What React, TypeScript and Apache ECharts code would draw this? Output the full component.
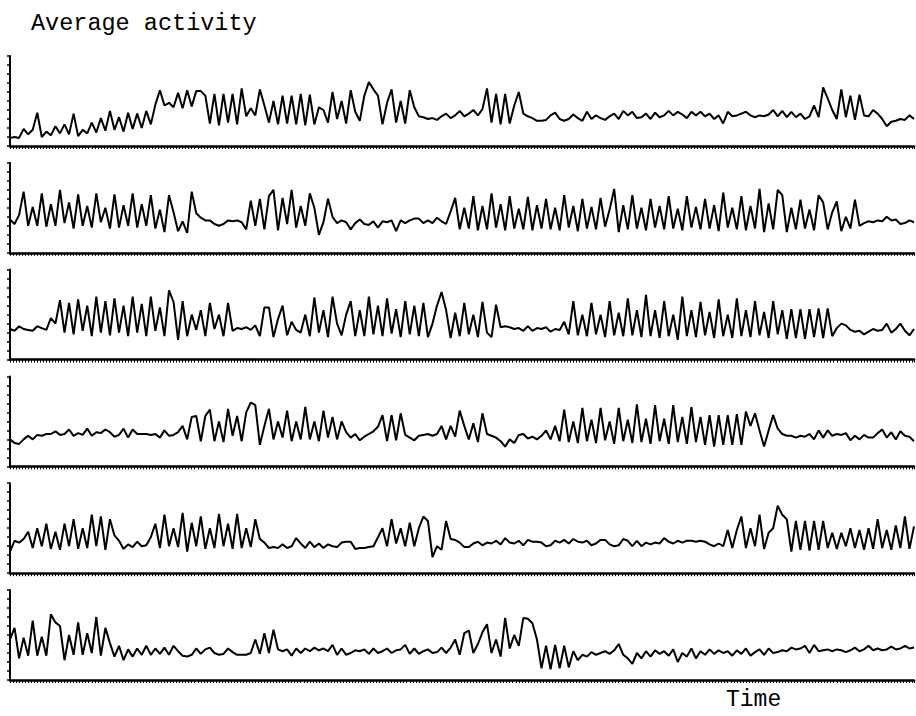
import React, { useEffect, useRef } from "react";
import * as echarts from "echarts";

const titleText = "Average activity";
const xAxisName = "Time";

const trace1 = [
  0.9, 1.0, 0.9, 1.9, 1.3, 1.8, 3.7,
  1.0, 1.6, 1.2, 2.2, 1.4, 2.4, 1.3, 3.6, 1.1, 1.8, 1.4, 2.6, 1.5, 3.1, 1.7, 3.9, 1.8, 3.2, 1.6, 3.7, 1.9, 3.6, 2.0, 3.9, 2.4,
  4.6, 6.2, 4.5, 4.8, 4.3, 5.9, 4.2, 6.2, 4.4, 6.1, 6.1, 5.6,
  2.5, 5.8, 2.3, 5.8, 2.6, 5.8, 2.4, 6.4, 3.3, 4.2, 3.4, 6.3, 4.5, 2.6, 5.0, 2.4, 5.6, 2.5, 5.6, 2.4, 5.8, 2.3, 5.7,
  2.4, 4.3, 4.0, 2.6, 6.0, 3.0, 5.0, 2.5, 6.2, 3.8, 2.8, 5.6, 7.1, 6.3, 5.6, 2.4, 4.8, 6.3, 2.6, 5.0, 2.5, 6.2, 4.3,
  3.3, 3.2, 3.0, 3.1, 2.9, 3.3, 3.6, 3.1, 3.4, 3.9, 3.3, 3.6, 4.0, 3.4, 4.1,
  6.4, 2.6, 5.8, 2.4, 5.8, 2.5, 4.5, 6.0, 3.6,
  3.3, 3.1, 2.8, 2.8, 2.9, 3.4, 3.7, 3.0, 2.8, 3.0, 3.5, 3.1, 2.8, 3.8, 3.0, 3.4, 3.1, 2.9, 3.3, 3.6, 3.0, 3.9, 3.4, 3.8, 3.1, 3.2, 3.6, 3.0, 3.7, 3.2, 3.4,
  3.9, 3.4, 3.8, 3.5, 3.1, 3.8, 3.4, 3.8, 3.3, 3.6, 3.0, 3.4, 2.5, 3.8, 3.3, 3.4, 3.6, 3.8, 3.4, 3.2, 3.4, 3.3, 3.5, 4.0, 3.3, 3.9, 3.2, 3.8, 3.2, 3.6, 3.0,
  3.3, 4.5, 3.2, 6.5, 5.3, 4.0, 3.0, 6.3, 3.2, 5.6, 2.9, 5.7, 3.4,
  3.3, 4.0, 3.6, 3.0, 2.2, 2.7, 2.8, 3.0, 2.9, 3.4, 3.0,
];

const trace2 = [
  3.7, 3.2, 4.2, 6.8, 3.0, 5.1, 3.0, 6.6, 2.9, 5.4, 3.0, 7.0, 3.3, 5.6, 2.7, 6.5, 3.0, 5.2, 2.8, 6.6, 3.4, 5.0, 2.7, 6.5, 2.8, 5.3, 3.0, 6.6, 2.8, 5.4, 3.0, 6.4, 2.7, 4.8, 2.3, 6.4, 4.5, 2.4, 3.5, 2.2, 6.8,
  4.4, 3.9, 3.6, 3.6, 3.2, 3.0, 3.2, 3.6, 3.5, 3.6, 3.4,
  2.6, 5.8, 3.0, 6.0, 2.6, 6.3, 7.0, 2.5, 6.1, 3.2, 7.0, 2.8, 5.2, 3.0, 6.6, 5.0, 2.0, 3.4, 6.0, 4.0,
  3.3, 3.6, 3.4, 2.6, 3.3, 3.7, 3.2, 3.1, 3.5, 2.8, 3.5, 3.4, 3.6, 2.4, 3.6, 3.3, 3.6, 3.8, 3.8, 3.3, 3.6, 3.3, 3.9, 3.5,
  3.2, 4.6, 6.1, 2.6, 5.0, 2.7, 6.3, 2.5, 5.2, 2.6, 6.6, 2.8, 5.4, 2.5, 6.3, 2.7, 4.9, 2.6, 6.2, 2.5, 5.3, 2.7, 6.0, 2.6, 5.0, 2.5, 6.4, 2.8, 5.2, 2.4, 6.0, 2.7, 5.1, 2.6, 6.1, 2.9, 4.8,
  7.1, 2.3, 5.3, 2.6, 6.4, 2.7, 5.0, 2.5, 6.0, 2.8, 5.2, 2.6, 6.3, 2.7, 4.9, 2.5, 6.3, 2.8, 5.1, 2.6, 6.0, 2.7, 5.3, 2.4, 6.7, 2.8, 5.0, 2.6, 6.3, 2.5, 5.2, 2.7, 7.1, 2.3, 5.5, 2.6,
  7.0, 6.4, 2.3, 5.0, 2.6, 5.9, 2.7, 4.8, 2.5, 6.4, 5.6, 2.6, 4.5, 5.7, 2.4, 4.0, 2.7, 5.9, 3.0, 3.3,
  3.5, 3.4, 3.6, 3.5, 4.0, 3.6, 3.7, 3.2, 3.3, 3.6, 3.4,
];

const trace3 = [
  3.4, 3.2, 3.7, 3.4, 3.3, 3.2, 3.7, 3.5,
  3.3, 4.6, 4.0, 6.6, 3.0, 6.3, 2.8, 6.7, 3.2, 6.0, 2.6, 7.0, 3.0, 6.5, 2.7, 6.8, 3.0, 6.0, 2.6, 7.0, 3.0, 6.2, 2.6, 7.0, 3.2, 5.8, 2.6, 7.7, 6.4, 2.2, 6.5, 2.6, 5.0, 3.3, 5.5, 2.6, 6.3, 3.4, 5.0, 2.6, 6.3, 3.2,
  3.5, 3.4, 3.6, 3.3, 3.8,
  2.6, 5.8, 5.8, 2.5, 4.5, 6.0, 2.7, 4.2, 3.3, 3.0, 5.0, 2.6, 6.9, 3.0, 5.5, 2.5, 7.0, 4.0, 2.7, 5.0, 6.5, 2.6, 5.5, 2.6, 7.0, 2.8, 6.0, 2.6, 6.8, 2.9, 5.6, 2.5, 6.5, 2.8, 6.0, 2.6, 6.3, 2.5, 4.0, 6.0, 7.5, 5.5, 2.4, 5.2, 2.6, 6.3, 2.8, 5.0, 2.5, 6.4, 3.0, 2.5, 6.1, 3.6,
  3.7, 3.6, 3.4, 3.5, 3.2, 3.7, 3.2, 3.5, 3.4, 3.6, 3.1, 3.4, 3.3,
  4.2, 2.8, 6.5, 2.7, 5.0, 2.6, 6.3, 2.8, 5.0, 2.5, 6.5, 2.7, 5.2, 2.6, 6.8, 2.7, 5.5, 2.5, 7.2, 2.6, 5.5, 2.4, 6.5, 2.6, 5.0, 2.2, 7.0, 2.6, 5.5, 2.5,
  6.4, 2.7, 5.3, 2.4, 6.7, 2.6, 5.0, 2.4, 6.8, 2.6, 5.5, 2.5, 6.5, 2.7, 5.3, 2.4, 6.5, 2.8, 5.5, 2.3, 5.6, 2.4, 5.6, 2.3, 5.6, 2.5, 5.7, 2.4, 5.7, 2.6,
  3.5, 4.0, 3.8, 3.3, 3.1, 3.2, 2.8, 3.1, 3.4, 3.2, 3.3, 4.0, 3.0, 3.4, 4.0, 3.2, 2.7, 3.4,
];

const trace4 = [
  3.0, 2.6, 2.5, 3.0, 3.4, 3.0, 3.5, 3.4, 3.6, 3.6, 3.9, 3.5, 3.6, 4.1, 3.4, 3.7, 3.5, 4.2, 3.4, 3.8, 3.7, 4.1, 3.8, 3.3, 3.5, 4.2, 3.2, 4.1, 3.6, 3.6, 3.6, 3.5, 3.6, 3.2,
  4.0, 3.4, 3.5, 3.8, 4.5, 3.0, 5.5, 5.6, 2.8, 5.6, 6.3, 2.8, 5.0, 2.7, 6.4, 3.4, 5.6, 2.8, 6.0, 7.1, 6.8, 2.4, 4.5, 6.4, 3.0, 5.0, 3.2, 6.2, 2.8, 5.0, 3.0, 6.6, 3.0, 5.0, 2.8, 6.2, 3.2, 5.5, 3.0, 5.0, 3.8,
  3.2, 3.6, 2.9, 3.3, 3.6, 3.9, 4.4, 5.7, 2.8, 5.7, 2.9, 5.9, 3.5, 3.2,
  2.9, 3.4, 3.5, 3.6, 3.4, 3.6,
  4.5, 3.0, 4.5, 3.3, 6.2, 4.5, 3.0, 4.8, 2.7, 5.9, 3.6,
  3.4, 3.2, 2.8, 2.2, 3.0, 2.6, 3.5, 3.6, 3.1, 3.3, 3.0, 3.4,
  4.0, 3.0, 4.5, 2.8, 6.3, 2.7, 5.0, 2.6, 6.5, 2.8, 5.2, 2.6, 6.5, 2.9, 5.0, 2.5, 6.5, 2.8, 5.2, 2.6, 6.9, 2.7, 5.3, 2.5, 6.8, 2.8, 5.3, 2.5, 6.8, 2.7, 5.5, 2.5, 6.6, 2.7, 5.5, 2.4, 5.7, 2.2, 5.7, 2.4, 5.7, 2.4, 5.8, 2.4, 6.1,
  4.5, 5.9, 4.0, 2.2, 4.0, 5.7, 4.2,
  3.6, 3.4, 3.4, 3.2, 3.4, 3.3, 3.6, 3.0, 4.0, 3.2, 4.0, 3.4, 3.6, 3.5, 3.7, 2.9, 3.4, 3.0, 3.5, 3.2, 3.2, 3.7, 4.1, 3.2, 3.8, 3.0, 3.9, 3.4, 3.3, 2.8,
];

const trace5 = [
  2.4, 3.6, 3.4, 3.8, 4.6, 2.8, 5.0, 3.0, 5.5, 2.7, 4.6, 2.6, 5.5, 3.0, 6.0, 2.7, 5.0, 2.8, 6.5, 3.0, 6.3, 2.6, 6.0, 4.2,
  3.6, 2.7, 3.2, 2.9, 3.5, 3.0, 3.1,
  4.0, 5.5, 2.8, 6.5, 3.0, 5.0, 2.9, 6.7, 2.4, 5.6, 3.0, 6.3, 2.7, 5.0, 2.8, 6.6, 3.0, 5.5, 2.7, 6.6, 2.8, 5.0, 2.9, 6.0, 3.8,
  3.4, 2.8, 2.9, 2.8, 3.2, 2.8, 3.0, 3.9, 3.3, 2.8, 3.5, 2.9, 3.3, 2.8, 3.2, 3.0, 2.9, 3.4, 3.5, 3.5, 2.7, 2.8, 2.8, 2.9, 3.0,
  4.0, 5.0, 3.0, 6.0, 3.3, 5.0, 3.0, 5.6, 3.0, 5.0, 6.3, 5.8, 1.8, 3.0, 2.6, 5.8, 3.8,
  3.7, 3.4, 2.9, 2.9, 3.3, 3.5, 3.1, 3.4, 3.3, 3.6, 3.2, 3.9, 3.4, 3.3, 3.6, 3.1, 3.7, 3.5, 3.5, 3.4, 3.0, 3.1, 3.6, 3.4, 3.7, 3.3, 3.8, 3.5, 3.4, 3.6,
  3.1, 3.3, 3.7, 3.7, 3.2, 3.0, 3.1, 3.8, 3.6, 3.0, 3.6, 3.0, 3.4, 3.2, 3.4, 3.3, 3.9, 3.5, 3.3, 3.6, 3.4, 3.6, 3.6, 3.5, 3.6, 3.5, 3.2, 3.0, 3.3,
  3.0, 4.8, 2.8, 4.8, 6.3, 2.8, 5.0, 3.0, 6.5, 2.7, 4.5, 5.0, 7.5, 6.5, 6.0, 2.4, 5.8, 2.6, 5.8, 2.5, 5.8, 2.6, 5.8, 2.8, 4.5, 2.7, 4.5, 3.0, 5.0, 2.8, 4.8, 2.6, 5.0, 2.7, 6.0, 2.8, 4.8, 2.6, 5.3, 2.8, 6.3, 2.7, 5.2,
];

const trace6 = [
  4.5, 5.8, 2.4, 4.7, 2.7, 6.6, 2.7, 4.8, 2.7, 7.3, 6.4, 6.0, 2.2, 5.0, 2.8, 6.4, 2.8, 5.2, 3.0, 7.0, 2.7, 5.8,
  4.1, 2.6, 3.8, 2.2, 3.4, 2.6, 3.5, 2.8, 3.8, 2.8, 3.5, 2.9, 3.6, 2.8, 3.8, 3.2, 2.7, 2.6, 2.8, 3.5, 2.9, 3.4, 3.6, 3.0, 2.8, 2.9, 3.5, 3.1, 2.8, 2.8, 2.8, 3.0,
  4.5, 2.9, 5.2, 3.0, 5.6, 3.4,
  3.2, 3.4, 2.7, 3.5, 3.0, 3.5, 3.2, 3.6, 3.3, 3.5, 3.2, 3.9, 2.8, 3.5, 2.8, 3.0, 3.3, 3.2, 3.4, 2.9, 3.5, 3.0, 3.2, 3.5, 3.0, 3.3, 3.4, 3.9, 2.9, 3.5, 2.9, 3.2, 3.4, 3.0, 3.1, 3.6,
  3.0, 3.6, 4.5, 2.8, 5.2, 5.5, 3.0, 4.0, 5.3, 6.2, 3.0, 4.5, 2.6, 6.9, 3.5, 5.0, 3.8, 6.9, 6.8, 6.3,
  4.5, 1.3, 3.8, 1.2, 3.9, 1.3, 3.8, 1.4, 3.2, 2.2, 2.8, 2.6, 3.1, 2.8, 3.0, 3.2, 2.9, 3.3, 4.0, 2.8, 2.4, 1.8, 3.0,
  2.4, 3.2, 2.6, 3.3, 2.9, 3.2, 2.7, 3.4, 2.0, 3.0, 2.6, 3.5, 2.4, 3.2, 2.8, 3.4, 2.9, 3.3, 3.0, 3.2, 2.7, 3.3, 2.9, 3.5, 2.7, 3.1, 3.4, 2.8, 3.5, 3.0,
  3.1, 3.3, 3.2, 3.6, 3.4, 3.5, 3.8, 3.0, 3.9, 3.2, 3.3, 3.4, 3.2, 3.4, 3.3, 3.1, 3.3, 3.6, 3.2, 3.4, 3.8, 3.3, 3.5, 3.3, 3.4, 3.7, 3.4, 3.5, 3.8, 3.5, 3.6,
];

const traces = [trace1, trace2, trace3, trace4, trace5, trace6];
const yMin = 0;
const yMax = 10;

export default function App() {
  const ref = useRef<HTMLDivElement>(null);

  useEffect(() => {
    if (!ref.current) return;
    const chart = echarts.init(ref.current, undefined, { renderer: "svg" });
    const panelTop = 56;
    const panelStep = 106.8;
    const panelHeight = 90;
    const font = "'Liberation Mono', 'DejaVu Sans Mono', monospace";

    const grids: any[] = [];
    const xAxes: any[] = [];
    const yAxes: any[] = [];
    const series: any[] = [];

    traces.forEach((tr, i) => {
      grids.push({
        left: 10,
        right: 2,
        top: panelTop + i * panelStep,
        height: panelHeight,
      });
      xAxes.push({
        type: "value",
        gridIndex: i,
        min: 0,
        max: tr.length - 1,
        interval: 2,
        axisLine: { show: true, lineStyle: { color: "#000", width: 2.5 } },
        axisTick: { show: true, length: 3, lineStyle: { color: "#000", width: 1 } },
        minorTick: { show: true, splitNumber: 3, length: 3, lineStyle: { color: "#000", width: 1 } },
        axisLabel: { show: false },
        splitLine: { show: false },
      });
      yAxes.push({
        type: "value",
        gridIndex: i,
        min: yMin,
        max: yMax,
        interval: 1,
        axisLine: { show: true, lineStyle: { color: "#000", width: 2 } },
        axisTick: { show: true, length: 3, lineStyle: { color: "#000", width: 1.5 } },
        axisLabel: { show: false },
        splitLine: { show: false },
      });
      series.push({
        type: "line",
        xAxisIndex: i,
        yAxisIndex: i,
        data: tr.map((v, k) => [k, v]),
        showSymbol: false,
        symbol: "none",
        lineStyle: { color: "#000", width: 2 },
        silent: true,
      });
    });

    chart.setOption({
      animation: false,
      backgroundColor: "#fff",
      title: {
        text: titleText,
        left: 26,
        top: 6,
        textStyle: { fontFamily: font, fontSize: 23.5, fontWeight: "normal", color: "#000" },
      },
      graphic: [
        {
          type: "text",
          left: 726,
          top: 688,
          style: { text: xAxisName, fontFamily: font, fontSize: 23, fill: "#000" },
        },
      ],
      grid: grids,
      xAxis: xAxes,
      yAxis: yAxes,
      series,
    });

    return () => chart.dispose();
  }, []);

  return (
    <div
      ref={ref}
      style={{ position: "fixed", left: 0, top: 0, width: 916, height: 716, background: "#fff" }}
    />
  );
}
